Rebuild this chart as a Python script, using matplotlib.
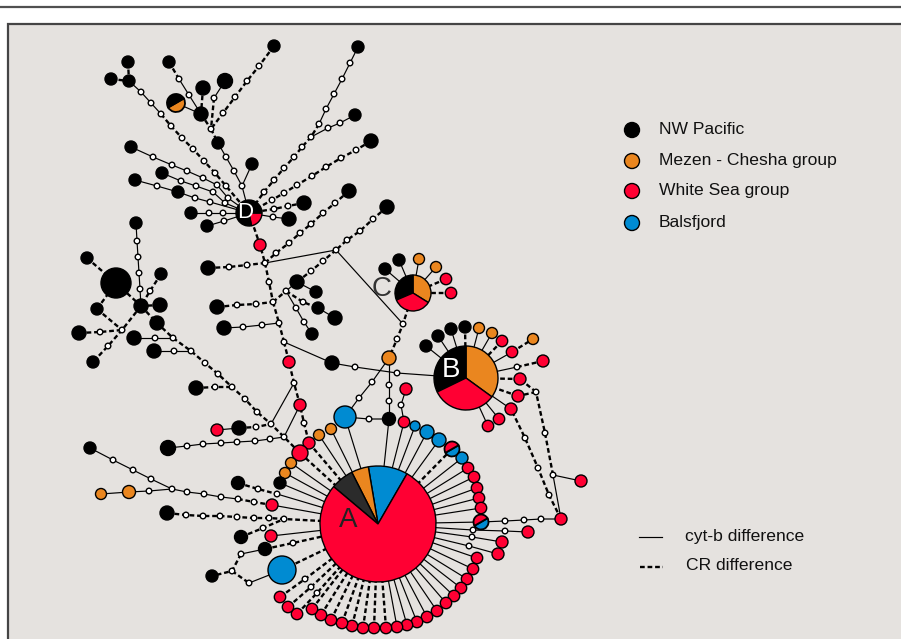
import matplotlib
matplotlib.use('Agg')
import matplotlib.pyplot as plt
from matplotlib.patches import Circle, Wedge, Rectangle

plt.rcParams['font.family'] = ['Liberation Sans', 'DejaVu Sans']

COL = {'k': '#000000', 'o': '#ea861f', 'r': '#ff0033', 'b': '#008bd2',
       'g': '#2b2b2b', 'w': '#ffffff'}
RAD = {'k': 6, 'o': 5.5, 'r': 5.7, 'b': 6, 'w': 2.8}

# main haplotypes (pie charts)
pie_names = ['A', 'B', 'C', 'D']
pie_xy = [(378, 524), (466, 378), (413, 293), (249, 213)]
pie_r = [58, 32, 18, 13]
pie_shares = [[0.11, 0.048, 0.064, 0.778], [0.35, 0.322, 0.328],
              [0.339, 0.314, 0.347], [0.22, 0.78]]
pie_cols = [['b', 'o', 'g', 'r'], ['o', 'k', 'r'], ['o', 'k', 'r'], ['r', 'k']]
pie_start = [60, -36, -32, -79]
pie_label_xy = [(348, 520), (451, 370), (382, 289), (245, 212)]
pie_label_col = ['#222222', 'white', '#333333', 'white']

# haplotypes shared by two groups
mixed_xy = [(176, 103), (452, 449), (481, 522)]
mixed_r = [9, 7.5, 7.5]
mixed_cols = [['o', 'k'], ['b', 'r'], ['b', 'r']]

# legend
legend_labels = ['NW Pacific', 'Mezen - Chesha group', 'White Sea group', 'Balsfjord']
legend_cols = ['k', 'o', 'r', 'b']
line_labels = ['cyt-b difference', 'CR difference']

# network links: style ('s' cyt-b, 'd' CR) and chain of nodes
# node = (x, y, kind[, radius]) ; (x, y) = join to a node drawn elsewhere
links = [
    # cluster around D
    ('d', [(128, 62, 'k'), (129, 81, 'k')]),
    ('d', [(111, 79, 'k'), (129, 81)]),
    ('s', [(129, 81), (141, 92, 'w'), (151, 103, 'w'), (161, 114, 'w')]),
    ('d', [(161, 114), (171, 126, 'w'), (182, 138, 'w'), (193, 149, 'w'), (204, 161, 'w'),
           (215, 173, 'w'), (226, 186, 'w'), 'D']),
    ('d', [(169, 62, 'k'), (179, 79, 'w')]),
    ('s', [(179, 79), (189, 95, 'w'), (201, 114, 'k', 7)]),
    ('d', [(203, 88, 'k', 7), (201, 114)]),
    ('s', [(176, 103), (201, 114)]),
    ('s', [(225, 81, 'k', 7.5), (214, 98, 'w')]),
    ('d', [(214, 98), (211, 129, 'w')]),
    ('d', [(274, 46, 'k'), (259, 66, 'w'), (247, 81, 'w'), (235, 97, 'w'), (223, 113, 'w'), (211, 129)]),
    ('d', [(201, 114), (211, 129)]),
    ('d', [(211, 129), (218, 143, 'k')]),
    ('s', [(218, 143), (226, 157, 'w'), (234, 171, 'w'), (242, 186, 'w'), 'D']),
    ('s', [(252, 164, 'k'), (242, 186)]),
    ('s', [(131, 147, 'k'), (153, 157, 'w'), (172, 165, 'w'), (187, 171, 'w'), (203, 178, 'w'),
           (217, 185, 'w'), (228, 198, 'w'), 'D']),
    ('s', [(162, 173, 'k'), (181, 181, 'w'), (196, 186, 'w'), (213, 192, 'w'), (225, 203, 'w'), 'D']),
    ('s', [(135, 180, 'k'), (157, 186, 'w'), (178, 192, 'k'), (195, 198, 'w'), (210, 202, 'w'), 'D']),
    ('s', [(191, 213, 'k'), (209, 213, 'w'), (223, 213, 'w'), 'D']),
    ('s', [(207, 226, 'k'), (224, 221, 'w'), 'D']),
    ('d', [(304, 203, 'k', 7), (288, 206, 'w'), (274, 209, 'w'), 'D']),
    ('s', [(289, 219, 'k', 7), (273, 217, 'w'), 'D']),
    ('s', [(358, 47, 'k'), (350, 63, 'w'), (342, 79, 'w'), (334, 94, 'w'), (326, 109, 'w'), (319, 124, 'w')]),
    ('d', [(319, 124), (311, 137, 'w'), (302, 147, 'w'), (294, 157, 'w'), (284, 168, 'w'),
           (274, 180, 'w'), (264, 192, 'w'), 'D']),
    ('s', [(355, 115, 'k'), (340, 123, 'w'), (328, 128, 'w'), (311, 137)]),
    ('d', [(371, 141, 'k', 7), (356, 150, 'w'), (341, 158, 'w'), (326, 167, 'w'), (312, 176, 'w'),
           (297, 185, 'w'), (284, 193, 'w'), (272, 200, 'w'), 'D']),
    # central trunk
    ('d', ['D', (260, 245, 'r', 6), (265, 263, 'w')]),
    ('d', [(208, 268, 'k', 7), (229, 267, 'w'), (247, 265, 'w'), (265, 263)]),
    ('d', [(349, 191, 'k', 7), (335, 203, 'w'), (323, 213, 'w'), (311, 224, 'w'), (300, 233, 'w'),
           (289, 243, 'w'), (276, 253, 'w'), (265, 263)]),
    ('d', [(387, 207, 'k', 7), (373, 219, 'w'), (360, 231, 'w'), (347, 240, 'w'), (336, 250, 'w')]),
    ('s', [(336, 250), (265, 263)]),
    ('s', [(336, 250), (403, 324)]),
    ('d', ['C', (403, 324, 'w'), (397, 339, 'w'), (389, 358, 'o', 7)]),
    ('d', [(336, 250), (323, 261, 'w'), (311, 271, 'w'), (297, 282, 'k', 7)]),
    ('d', [(265, 263), (269, 282, 'w'), (273, 302, 'w')]),
    ('d', [(217, 307, 'k', 7), (237, 305, 'w'), (256, 304, 'w'), (273, 302)]),
    ('d', [(273, 302), (286, 291, 'w')]),
    ('s', [(286, 291), (297, 282)]),
    ('s', [(297, 282), (316, 292, 'k')]),
    ('d', [(286, 291), (303, 302, 'w'), (318, 308, 'k')]),
    ('s', [(318, 308), (335, 318, 'k', 7)]),
    ('s', [(286, 291), (296, 308, 'w'), (304, 322, 'w'), (312, 334, 'k')]),
    ('d', [(273, 302), (279, 323, 'w')]),
    ('s', [(224, 328, 'k', 7), (243, 327, 'w'), (262, 325, 'w'), (279, 323)]),
    ('d', [(279, 323), (284, 342, 'w')]),
    ('s', [(284, 342), (332, 363, 'k', 7), (355, 367, 'w'), (397, 373, 'w'), 'B']),
    ('d', [(284, 342), (289, 362, 'r', 6), (294, 383, 'w'), (300, 405, 'r', 6), (304, 423, 'w'),
           (309, 443, 'r', 6)]),
    ('s', [(294, 383), (271, 424, 'w')]),
    ('s', [(300, 405), (284, 437, 'w')]),
    # left cluster
    ('d', [(87, 258, 'k'), (116, 283, 'k', 15)]),
    ('s', [(136, 223, 'k'), (137, 241, 'w'), (138, 257, 'w'), (139, 273, 'w'), (140, 289, 'w'),
           (141, 306, 'k', 7)]),
    ('d', [(161, 274, 'k'), (150, 291, 'w'), (141, 306)]),
    ('d', [(160, 305, 'k', 7), (141, 306)]),
    ('d', [(116, 283), (141, 306)]),
    ('d', [(97, 309, 'k'), (116, 283)]),
    ('d', [(141, 306), (122, 330, 'w'), (108, 346, 'w'), (93, 362, 'k')]),
    ('d', [(79, 333, 'k', 7), (100, 332, 'w'), (122, 330)]),
    ('d', [(97, 309), (122, 330)]),
    ('d', [(141, 306), (157, 323, 'k', 7), (173, 338, 'w'), (191, 351, 'w'), (205, 363, 'w'),
           (218, 374, 'w'), (232, 387, 'w'), (245, 399, 'w'), (257, 412, 'w'), (271, 424),
           (284, 437), (300, 453, 'r', 8)]),
    ('s', [(134, 338, 'k', 7), (155, 338, 'w'), (173, 338)]),
    ('s', [(154, 351, 'k', 7), (174, 351, 'w'), (191, 351)]),
    ('d', [(196, 388, 'k', 7), (215, 387, 'w'), (232, 387)]),
    ('s', [(217, 430, 'r', 6), (239, 428, 'k', 7)]),
    ('d', [(239, 428), (256, 427, 'w'), (271, 424)]),
    ('s', [(168, 448, 'k', 7.5), (187, 446, 'w'), (203, 444, 'w'), (221, 443, 'w'), (237, 442, 'w'),
           (255, 441, 'w'), (270, 439, 'w'), (284, 437)]),
    ('s', [(90, 448, 'k'), (113, 460, 'w'), (133, 470, 'w'), (151, 479, 'w'), (172, 489, 'w')]),
    ('s', [(101, 494, 'o'), (129, 492, 'o', 6.5), (149, 491, 'w'), (172, 489), (187, 492, 'w'),
           (204, 494, 'w'), (221, 497, 'w'), (238, 499, 'w')]),
    ('d', [(238, 499), (254, 502, 'w'), (272, 505, 'r', 6)]),
    ('s', [(272, 505), 'A']),
    ('d', [(238, 483, 'k', 6.5), (258, 489, 'w'), (277, 494, 'w')]),
    ('s', [(277, 494), 'A']),
    ('d', [(167, 513, 'k', 7), (186, 515, 'w'), (203, 516, 'w'), (220, 516, 'w'), (237, 517, 'w'),
           (254, 518, 'w'), (269, 518, 'w'), (284, 519, 'w'), 'A']),
    ('d', [(241, 537, 'k', 6.5), (263, 528, 'w'), (284, 519)]),
    ('s', [(271, 536, 'r', 6), 'A']),
    ('d', [(265, 549, 'k', 6.5), (293, 543, 'w'), 'A']),
    ('s', [(265, 549), (241, 554, 'w')]),
    ('d', [(241, 554), (232, 571, 'w'), (212, 576, 'k')]),
    ('d', [(232, 571), (249, 583, 'w')]),
    ('s', [(249, 583), (282, 570, 'b', 14)]),
    ('d', [(282, 570), 'A']),
    # ring around A, upper left and top
    ('d', [(309, 443), 'A']),
    ('d', [(300, 453), 'A']),
    ('s', [(319, 435, 'o'), 'A']),
    ('s', [(331, 429, 'o'), 'A']),
    ('s', [(345, 417, 'b', 11), 'A']),
    ('s', [(291, 463, 'o'), 'A']),
    ('s', [(285, 473, 'o'), 'A']),
    ('s', [(280, 483, 'k'), 'A']),
    ('s', [(389, 419, 'k', 6.5), 'A']),
    ('s', [(345, 417), (369, 419, 'w'), (389, 419)]),
    ('s', [(345, 417), (359, 398, 'w'), (372, 382, 'w'), (389, 358)]),
    ('s', [(389, 358), (389, 385, 'w'), (389, 401, 'w'), (389, 419)]),
    ('s', [(406, 389, 'r', 6), (401, 405, 'w'), (404, 422, 'r')]),
    ('s', [(404, 422), 'A']),
    ('s', [(415, 426, 'b', 5), 'A']),
    ('s', [(427, 432, 'b', 7), 'A']),
    ('s', [(439, 440, 'b', 7), 'A']),
    ('d', [(452, 449), 'A']),
    ('s', [(462, 458, 'b'), 'A']),
    ('s', [(468, 468, 'r'), 'A']),
    ('s', [(474, 477, 'r'), 'A']),
    ('s', [(477, 488, 'r'), 'A']),
    ('s', [(479, 498, 'r'), 'A']),
    ('s', [(481, 508, 'r'), 'A']),
    ('s', [(481, 522), 'A']),
    # right of A
    ('s', ['A', (473, 530, 'w'), (505, 531, 'w'), (528, 532, 'r', 6)]),
    ('s', ['A', (472, 537, 'w'), (502, 542, 'r', 6)]),
    ('s', ['A', (469, 546, 'w'), (498, 554, 'r', 6)]),
    ('s', [(481, 522), (505, 521, 'w'), (524, 520, 'w'), (541, 519, 'w'), (561, 519, 'r', 6)]),
    # ring around A, bottom
    ('s', [(477, 558, 'r'), 'A']),
    ('s', [(473, 569, 'r'), 'A']),
    ('s', [(467, 579, 'r'), 'A']),
    ('s', [(461, 588, 'r'), 'A']),
    ('s', [(454, 596, 'r'), 'A']),
    ('s', [(446, 603, 'r'), 'A']),
    ('s', [(437, 611, 'r'), 'A']),
    ('s', [(427, 617, 'r'), 'A']),
    ('s', [(417, 622, 'r'), 'A']),
    ('s', [(407, 625, 'r'), 'A']),
    ('s', [(397, 627, 'r'), 'A']),
    ('d', [(386, 628, 'r'), 'A']),
    ('d', [(374, 628, 'r'), 'A']),
    ('d', [(363, 628, 'r'), 'A']),
    ('d', [(352, 626, 'r'), 'A']),
    ('d', [(342, 623, 'r'), 'A']),
    ('d', [(331, 620, 'r'), 'A']),
    ('d', [(321, 615, 'r'), 'A']),
    ('d', [(312, 609, 'r'), 'A']),
    ('d', [(297, 614, 'r'), (317, 593, 'w'), 'A']),
    ('d', [(288, 607, 'r'), (311, 587, 'w'), 'A']),
    ('d', [(280, 597, 'r'), (305, 579, 'w'), 'A']),
    # between A and B
    ('d', [(561, 519), (549, 495, 'w'), (538, 468, 'w'), (525, 438, 'w'), (511, 409, 'r', 6)]),
    ('s', [(561, 519), (553, 475, 'w'), (581, 481, 'r', 6)]),
    ('d', [(553, 475), (545, 433, 'w'), (536, 392, 'w')]),
    ('d', [(536, 392), (520, 379, 'r', 6)]),
    ('d', [(536, 392), (518, 396, 'r', 6)]),
    # spokes of B
    ('s', [(426, 346, 'k'), 'B']),
    ('s', [(438, 336, 'k'), 'B']),
    ('s', [(451, 329, 'k'), 'B']),
    ('d', [(465, 327, 'k'), 'B']),
    ('s', [(479, 328, 'o'), 'B']),
    ('s', [(492, 333, 'o'), 'B']),
    ('d', [(502, 341, 'r'), 'B']),
    ('s', [(512, 352, 'r'), 'B']),
    ('d', [(512, 352), (533, 339, 'o')]),
    ('s', ['B', (517, 367, 'w')]),
    ('d', [(517, 367), (543, 361, 'r', 6)]),
    ('d', [(520, 379), 'B']),
    ('d', [(518, 396), 'B']),
    ('s', [(511, 409), 'B']),
    ('s', [(499, 419, 'r'), 'B']),
    ('s', [(488, 426, 'r'), 'B']),
    # spokes of C
    ('s', [(385, 269, 'k'), 'C']),
    ('s', [(399, 260, 'k'), 'C']),
    ('s', [(419, 259, 'o'), 'C']),
    ('s', [(436, 267, 'o'), 'C']),
    ('d', [(446, 279, 'r'), 'C']),
    ('d', [(451, 293, 'r'), 'C']),
]

fig = plt.figure(figsize=(9.01, 6.39), dpi=100, facecolor='white')
ax = fig.add_axes([0, 0, 1, 1])
ax.set_xlim(0, 901)
ax.set_ylim(639, 0)
ax.set_aspect('equal')
ax.axis('off')

# frame
ax.plot([0, 901], [7, 7], color='#505050', lw=1.6, zorder=0)
ax.add_patch(Rectangle((8, 24), 900, 630, facecolor='#e5e2df', edgecolor='#454545', lw=1.6, zorder=0))

centres = dict(zip(pie_names, pie_xy))


def xy(p):
    return centres[p] if isinstance(p, str) else (p[0], p[1])


nodes = []
for style, chain in links:
    pts = [xy(p) for p in chain]
    xs, ys = zip(*pts)
    if style == 's':
        ax.plot(xs, ys, color='black', lw=0.85, zorder=1, solid_capstyle='butt')
    else:
        ax.plot(xs, ys, color='black', lw=1.7, ls=(0, (2, 1.2)), zorder=1)
    for p in chain:
        if not isinstance(p, str) and len(p) > 2:
            nodes.append(p)

for p in nodes:
    kind = p[2]
    r = p[3] if len(p) > 3 else RAD[kind]
    z = 4 if kind == 'w' else 3
    ax.add_patch(Circle((p[0], p[1]), r, facecolor=COL[kind], edgecolor='black',
                        lw=1.0, zorder=z))


def pie(cx, cy, r, shares, cols, start, lw=1.0):
    a = start
    for s, c in zip(shares, cols):
        a2 = a + 360 * s
        # y axis is inverted, so screen angles are mirrored
        ax.add_patch(Wedge((cx, cy), r, -a2, -a, facecolor=COL[c], edgecolor='black',
                           lw=lw, zorder=3))
        a = a2


for (cx, cy), r, sh, cl, st in zip(pie_xy, pie_r, pie_shares, pie_cols, pie_start):
    pie(cx, cy, r, sh, cl, st)
for name, (lx, ly), lc in zip(pie_names, pie_label_xy, pie_label_col):
    fs = 16 if name == 'D' else 20
    ax.text(lx, ly, name, color=lc, fontsize=fs, ha='center', va='center', zorder=5)

for (cx, cy), r, cl in zip(mixed_xy, mixed_r, mixed_cols):
    pie(cx, cy, r, [0.5, 0.5], cl, -150, lw=1.3)

# legend
for i, (lab, c) in enumerate(zip(legend_labels, legend_cols)):
    y = [130, 161, 191, 223][i]
    ax.add_patch(Circle((632, y), 7.5, facecolor=COL[c], edgecolor='black', lw=1.0, zorder=3))
    ax.text(659, y - 1, lab, fontsize=12.6, ha='left', va='center', color='#111111')

ax.plot([639, 662], [537, 537], color='black', lw=0.85)
ax.plot([640, 663], [567, 567], color='black', lw=1.7, ls=(0, (2, 1.2)))
ax.text(685, 537, line_labels[0], fontsize=12.6, ha='left', va='center', color='#111111')
ax.text(686, 566, line_labels[1], fontsize=12.6, ha='left', va='center', color='#111111')

fig.savefig('out.png', dpi=100, facecolor='white')
